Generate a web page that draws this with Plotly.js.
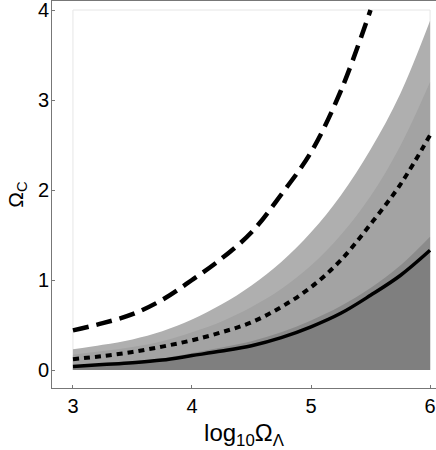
<!DOCTYPE html>
<html>
<head>
<meta charset="utf-8">
<script src="https://cdn.plot.ly/plotly-3.0.1.min.js"></script>
<style>html,body{margin:0;padding:0;background:#fff;}#chart{width:436px;height:450px;}</style>
</head>
<body>
<div id="chart"></div>
<script>
// log10(Omega_Lambda) sample points
var xs = [3, 3.25, 3.5, 3.75, 4, 4.25, 4.5, 4.75, 5, 5.25, 5.5, 5.75, 6];
// shaded band boundaries (Omega_C)
var bandTop    = [0.23, 0.28, 0.34, 0.43, 0.56, 0.73, 0.94, 1.20, 1.53, 1.94, 2.45, 3.07, 3.88];
var bandMid    = [0.17, 0.21, 0.255, 0.32, 0.42, 0.54, 0.70, 0.90, 1.16, 1.50, 1.93, 2.49, 3.20];
var bandLow    = [0.05, 0.07, 0.095, 0.13, 0.19, 0.25, 0.32, 0.42, 0.55, 0.71, 0.91, 1.16, 1.48];
// curves
var solidCurve = [0.04, 0.06, 0.08, 0.11, 0.16, 0.21, 0.27, 0.36, 0.48, 0.63, 0.83, 1.05, 1.33];
var dotCurve   = [0.12, 0.155, 0.20, 0.26, 0.33, 0.42, 0.53, 0.70, 0.92, 1.22, 1.62, 2.06, 2.61];
var dashX      = [3, 3.25, 3.5, 3.75, 4, 4.25, 4.5, 4.75, 5, 5.25, 5.5];
var dashCurve  = [0.44, 0.52, 0.62, 0.78, 1.0, 1.24, 1.53, 1.95, 2.42, 3.1, 4.0];
// axis ticks
var xTicks = [3, 4, 5, 6];
var yTicks = [0, 1, 2, 3, 4];

var xMin = xs[0], xMax = xs[xs.length - 1], yMax = yTicks[yTicks.length - 1], yMin = yTicks[0];

var traces = [
  {x: [xMin, xMin, xMax, xMax], y: [yMin, yMax, yMax, yMin], mode: 'lines',
   line: {color: '#e6e6e6', width: 1}},
  {x: xs, y: bandTop, mode: 'lines', fill: 'tozeroy', fillcolor: '#afafaf', line: {width: 0, color: '#afafaf'}},
  {x: xs, y: bandMid, mode: 'lines', fill: 'tozeroy', fillcolor: '#a3a3a3', line: {width: 0, color: '#a3a3a3'}},
  {x: xs, y: bandLow, mode: 'lines', fill: 'tozeroy', fillcolor: '#8b8b8b', line: {width: 0, color: '#8b8b8b'}},
  {x: xs, y: solidCurve, mode: 'lines', fill: 'tozeroy', fillcolor: '#7f7f7f', line: {width: 0, color: '#7f7f7f'}},
  {x: xs, y: solidCurve, mode: 'lines', line: {color: '#000', width: 3.5, shape: 'spline'}},
  {x: xs, y: dotCurve, mode: 'lines', line: {color: '#000', width: 4, dash: '6px,5px', shape: 'spline'}},
  {x: dashX, y: dashCurve, mode: 'lines', line: {color: '#000', width: 4.5, dash: '16px,8px', shape: 'spline'}}
];
traces.forEach(function(t){ t.showlegend = false; if (t.fill) t.line.shape = 'spline'; });

var layout = {
  width: 436, height: 450,
  margin: {l: 52, r: 0, t: 1, b: 62},
  paper_bgcolor: '#fff', plot_bgcolor: '#fff',
  font: {family: 'Liberation Sans, Arial, sans-serif', color: '#000', size: 18},
  xaxis: {
    range: [2.824, 6.05], tickvals: xTicks, ticktext: xTicks.map(String),
    showgrid: false, zeroline: false, showline: true, linecolor: '#777', linewidth: 1, mirror: true,
    ticks: 'inside', ticklen: 3, tickcolor: '#777', tickfont: {size: 20},
    title: {text: 'log<sub>10</sub>Ω<sub>Λ</sub>', font: {size: 24}, standoff: 8}
  },
  yaxis: {
    range: [-0.2, 4.1], tickvals: yTicks, ticktext: yTicks.map(String),
    showgrid: false, zeroline: false, showline: true, linecolor: '#777', linewidth: 1,
    ticks: 'inside', ticklen: 3, tickcolor: '#777', tickfont: {size: 20},
    ticklabeloverflow: 'allow', ticklabelstandoff: -2,
    title: {text: 'Ω<sub>C</sub>', font: {size: 21}, standoff: 8}
  }
};
Plotly.newPlot('chart', traces, layout, {staticPlot: true, displayModeBar: false});
</script>
</body>
</html>
